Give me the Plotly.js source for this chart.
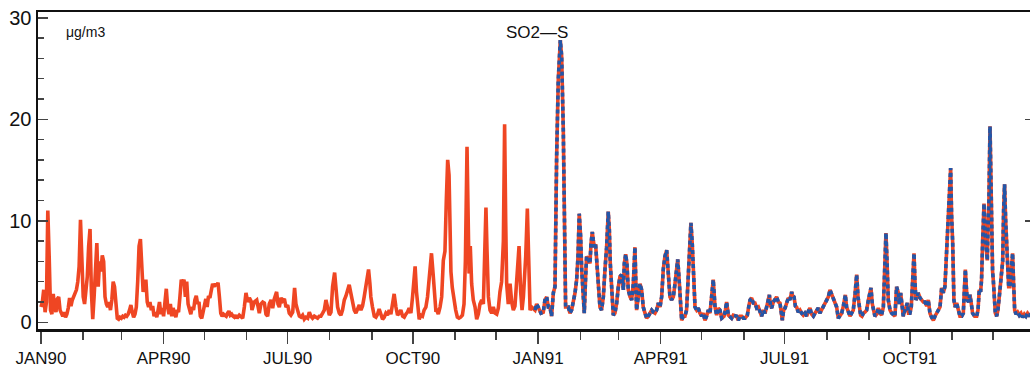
<!DOCTYPE html>
<html>
<head>
<meta charset="utf-8">
<script src="https://cdn.plot.ly/plotly-3.0.1.min.js"></script>
<style>
html,body{margin:0;padding:0;overflow:hidden;background:#fff;}
#chart{width:1032px;height:372px;}
</style>
</head>
<body>
<div id="chart"></div>
<script>
// Daily SO2-S concentration (µg/m3), days counted from 1 Jan 1990
const startDate = '1990-01-01';
const dayOffsets = [
0,1,2,3,4,5,6,7,8,9,10,11,12,13,14,15,16,17,18,19,20,21,22,23,24,25,26,27,28,29,30,31,32,33,34,35,36,37,38,39,
40,41,42,43,44,45,46,47,48,49,50,51,52,53,54,55,56,57,58,59,60,61,62,63,64,65,66,67,68,69,70,71,72,73,74,75,76,77,78,79,
80,81,82,83,84,85,86,87,88,89,90,91,92,93,94,95,96,97,98,99,100,101,102,103,104,105,106,107,108,109,110,111,112,113,114,115,116,117,118,119,
120,121,122,123,124,125,126,127,128,129,130,131,132,133,134,135,136,137,138,139,140,141,142,143,144,
145.6,148.1,149.3,150.5,151.8,153,154.2,154.9,156.6,158.4,159.3,160.3,161.5,162.8,164,165.2,166.4,167.6,168.9,170.1,
171.3,173,174,175,176.2,177.4,178.7,179.9,181.1,182.3,183.5,184.8,186.2,187.2,188.4,189.7,190.9,192.1,193.3,194.5,
195.8,197,198.2,199.4,200.7,201.9,203.1,204.3,205.5,206.8,208,209.2,210.4,211.7,212.9,214.1,215.6,216.5,217.8,219,
220.2,221.4,222.7,223.9,225.1,226.3,227.6,228.8,230,231.2,232.4,233.7,234.9,236.1,237.3,238.6,239.8,240.5,241.5,242.2,
243.4,244.7,245.9,247.1,248.3,249.6,250.8,252,253.2,254.4,255.7,256.9,258.1,259.3,260.6,261.8,263,264.2,265.5,266.7,
267.9,269.1,270.3,271.6,272.8,274,274.7,275.7,276.7,277.7,278.9,280.1,281.3,282.6,283.8,285,286.7,287.9,288.9,289.9,
290.5,291.7,293,294.2,295.4,296.6,297.6,298.6,299.6,300.3,301,302,303.2,304.5,305.7,306.9,308.1,309.4,310.6,311.6,
312.8,313.5,314.3,315.2,316.2,317.4,318.7,319.9,321.1,322.3,323.6,324.8,325.8,326.7,327.5,328.5,329.7,330.9,332.1,333.4,
334.6,335.8,337,338.2,339.5,340.4,341.2,341.9,343.1,344.4,345.6,346.8,348,349.3,351,352.2,353.2,354.2,354.9,355.9,
357.1,358.1,359.1,360.3,361.5,362.7,363.9,
365.1,367.1,368.8,370,371.3,372.5,373.7,374.9,376.2,377.4,378.6,379.8,381.3,382.3,383.5,384.2,385.2,387.2,388.4,389.6,
390.8,392.1,393.3,394.3,395.2,396.2,397,398,398.9,399.9,400.6,401.9,403.1,403.8,404.8,405.5,406.3,407.2,408,409.2,
410.4,411.6,412.9,414.1,415.3,416.5,417.3,418,419,420.2,421.4,422.7,423.9,425.1,426.3,427.6,428.3,429.3,430.2,431.2,
432.5,433.7,434.9,436.1,437.3,438.6,439.8,441,442.2,443.5,444.7,445.9,447.1,448.4,449.6,450.8,452,453.3,454.5,455.7,
456.9,458.1,459.4,460.6,461.8,463,464.3,465.5,466.5,467.5,468.4,469.4,470.4,471.6,472.8,474,475.3,476.3,477.2,478.2,
478.9,480.2,481.4,482.6,483.8,485.1,486.3,487.5,488.7,490,491.2,492.4,493.6,
494.9,496.1,497.3,498.5,499.8,501.5,502.5,503.4,504.7,505.9,507.1,508.3,509.6,510.8,512,513.2,514.5,515.7,516.9,518.6,
519.6,520.6,521.8,523,524.2,525.5,526.7,527.9,529.1,530.4,531.6,532.8,534,534.8,535.7,536.5,537.7,538.4,539.4,540.1,
541.4,542.6,543.6,544.3,545.3,546.3,547.5,548.7,549.9,551.2,551.9,552.9,553.9,554.8,556,557.3,558.5,559.7,560.9,562.2,
563.4,564.6,565.8,567.1,568.3,569.5,570.7,571.9,573.2,574.4,575.6,576.9,578.1,579.3,580.5,581.8,583,584.2,585.4,586.6,
587.9,589.1,590.6,591.5,592.8,594,595.2,596.4,597.7,598.9,599.9,600.8,601.8,602.8,603.8,605,606.2,607.5,608.7,609.4,
610.4,611.1,612.3,613.6,614.8,616,617.2,618.5,619.4,620.4,621.2,622.1,623.4,
624.6,627,628.2,629.5,630.2,631.2,632.2,633.1,634.4,636.1,637,638,639,640,641,641.7,642.4,643.4,644.1,645.4,
646.6,647.8,649,650.3,651.5,652.7,653.9,655.2,656.4,657.6,658.8,660.1,661.3,662.5,663.7,664.5,665.4,666.2,667.2,667.9,
668.6,669.4,670.3,671.3,672.3,673.5,674.7,676,677.2,677.9,678.7,679.4,680.1,681.1,682.1,683.1,684,685.5,687,688,
688.9,689.9,690.6,691.4,692.4,693.1,693.8,694.8,695.5,696,696.8,697.5,698,698.7,699.2,699.9,700.7,701.7,702.6,703.6,
704.4,705.3,706.1,706.8,707.5,708.3,709,709.7,710.5,711.4,712.4,713.4,714.1,714.9,715.9,717.1,718.3,719.5,720.7,722,
723.2,724.4,725.6,726.6
];
const so2Values = [
1.5,2.0,3.2,1.0,2.0,11.0,6.5,1.2,0.8,2.8,1.5,1.0,2.3,2.5,1.2,0.9,0.6,1.0,0.5,0.8,1.4,2.4,1.6,2.2,2.6,3.0,3.2,4.0,5.5,10.1,6.0,2.5,1.8,3.0,4.5,7.5,9.2,3.0,0.3,2.5,
6.0,7.8,3.5,6.0,5.0,6.6,6.0,2.5,1.8,1.5,2.0,1.2,2.2,4.0,3.5,1.2,0.4,0.3,0.5,0.4,0.6,0.5,0.7,0.6,0.8,1.2,1.7,1.0,0.5,0.8,1.5,4.0,7.5,8.2,5.0,3.0,3.5,4.2,2.0,1.5,
2.0,1.2,1.6,0.6,1.0,0.5,1.2,2.0,0.8,1.4,0.6,1.8,3.3,1.5,0.8,1.8,0.6,1.4,1.0,0.5,1.2,1.0,2.5,4.2,3.8,4.2,2.5,4.0,1.8,1.2,0.8,1.5,1.2,2.2,2.6,1.8,2.0,0.6,0.4,1.0,
1.8,2.3,1.5,2.6,2.4,3.2,3.8,3.5,3.8,3.6,3.9,2.5,0.9,0.6,0.8,0.7,0.6,0.9,1.1,0.7,0.8,0.6,0.5,0.7,0.4,
0.7,0.4,1.5,2.9,2.0,2.4,2.1,1.2,2.0,2.2,1.6,0.9,1.8,2.0,1.9,0.8,0.6,1.8,2.2,1.4,
2.3,3.0,1.8,1.5,2.4,2.1,2.3,1.5,1.7,0.9,0.7,1.0,3.4,1.8,1.2,0.6,0.5,0.7,0.3,0.5,
0.4,1.0,0.6,0.4,0.6,0.5,0.4,0.6,0.6,0.9,1.2,2.2,1.4,0.7,1.0,3.5,4.9,3.0,1.5,0.9,
0.7,1.2,2.2,2.6,3.2,3.7,2.8,2.0,1.2,0.9,1.3,1.7,1.2,1.6,2.5,3.6,4.6,5.2,3.8,2.5,
1.5,0.6,0.5,0.8,1.3,0.7,0.3,0.5,0.9,0.7,1.2,0.8,1.6,2.8,1.5,0.7,0.9,1.2,0.6,0.5,
0.8,1.0,1.4,0.9,2.5,4.5,5.5,3.0,1.5,0.3,0.7,0.6,1.2,1.5,2.5,4.5,6.8,4.8,2.2,1.2,
1.2,0.8,1.5,2.5,6.1,7.0,12.0,16.0,14.5,7.8,5.0,3.4,2.0,1.2,0.5,0.4,0.5,0.7,1.8,6.0,
17.3,9.0,4.8,7.5,3.8,2.2,1.5,0.3,0.8,1.8,2.2,1.8,6.0,11.3,7.0,2.5,1.2,0.9,1.5,0.9,
0.8,1.4,3.0,4.0,8.0,19.5,10.0,3.8,1.8,3.8,2.0,1.2,1.6,4.5,7.5,3.0,1.2,2.5,3.8,6.5,
11.2,6.0,1.2,1.5,1.4,1.2,1.8,
1.5,0.9,1.0,2.2,2.5,1.5,1.5,0.6,2.9,3.5,16.3,23.9,27.8,26.2,18.9,9.1,1.5,1.5,0.9,1.2,
1.9,2.9,4.2,6.5,10.7,8.5,5.2,2.5,0.9,4.5,6.5,6.2,5.8,7.7,8.9,8.1,7.4,7.7,5.8,3.5,
1.5,1.2,2.5,5.2,7.4,10.9,9.1,5.8,2.5,0.7,0.9,1.9,3.5,4.5,4.7,3.2,5.8,6.7,5.8,3.2,
2.5,2.2,3.8,7.4,1.2,2.5,3.8,3.2,1.5,0.9,0.4,0.6,1.0,1.2,1.0,0.9,1.2,1.9,1.5,2.5,
5.2,6.5,7.1,4.5,2.5,2.2,2.5,3.8,5.2,6.2,4.5,2.5,0.2,0.6,0.6,1.2,4.5,7.7,9.8,7.7,
5.8,1.5,1.2,1.4,0.9,0.6,0.9,0.2,0.6,1.2,0.9,2.2,4.2,
1.5,0.7,1.4,1.2,0.4,0.6,1.2,2.0,0.7,0.6,0.4,0.7,0.6,0.6,0.2,0.6,0.6,0.4,0.4,0.7,
1.5,2.2,2.4,1.9,1.9,1.4,1.5,0.9,0.6,1.2,0.9,1.5,2.4,2.7,1.6,1.4,2.0,2.2,2.4,2.5,
2.0,1.9,0.9,0.2,1.2,1.4,1.9,2.4,2.2,3.0,2.6,2.5,1.6,1.5,1.0,1.2,0.9,0.7,0.9,0.6,
1.1,1.4,0.8,0.6,0.9,1.2,1.4,0.9,1.2,1.5,1.9,2.2,2.5,3.2,2.8,2.2,1.9,1.5,0.4,0.7,
0.9,1.6,2.7,1.5,0.9,0.6,0.9,1.2,2.8,4.7,2.5,1.5,0.7,0.6,0.9,1.0,1.2,2.2,3.2,3.4,
1.8,1.2,0.6,0.8,1.4,0.9,0.7,1.5,5.0,8.8,6.0,2.2,1.2,
0.9,0.6,3.5,2.9,1.8,2.9,1.2,0.6,1.2,1.9,0.9,0.9,1.5,4.5,6.8,4.0,2.2,2.5,2.9,2.4,
2.2,2.0,2.0,1.6,2.2,0.9,0.5,0.2,0.6,0.9,1.2,1.5,3.4,2.9,3.5,5.8,7.5,8.8,13.0,15.2,
10.5,7.8,2.2,1.5,1.9,1.2,0.6,0.6,0.9,3.0,5.2,3.5,2.2,2.0,2.7,1.8,0.9,0.6,0.6,1.2,
3.2,3.0,4.2,8.0,11.7,9.0,7.8,6.1,10.0,12.0,19.3,12.5,6.1,5.0,4.2,2.0,0.9,0.6,1.2,2.5,
3.5,5.0,6.0,11.0,13.6,10.0,7.8,4.5,3.5,3.5,5.0,6.8,4.0,1.2,0.8,1.0,0.7,0.9,0.5,0.8,
0.6,0.9,0.7,0.8
];
const secondSeriesStartDay = 362.7;
const tickDates = ['1990-01-01','1990-04-01','1990-07-01','1990-10-01','1991-01-01','1991-04-01','1991-07-01','1991-10-01'];
const tickLabels = ['JAN90','APR90','JUL90','OCT90','JAN91','APR91','JUL91','OCT91'];
const seriesName = 'SO2\u2014S';
const unitLabel = '\u03bcg/m3';

const base = Date.parse(startDate + 'T00:00:00Z');
function toDate(d){ return new Date(base + d*86400000).toISOString().slice(0,19).replace('T',' '); }
const xAll = dayOffsets.map(toDate);
const xB = [], yB = [];
dayOffsets.forEach((d,i)=>{ if(d >= secondSeriesStartDay){ xB.push(toDate(d)); yB.push(so2Values[i]); } });

const RED = '#EF4623', BLUE = '#2356A8';
const traces = [
  {x: xAll, y: so2Values, type:'scatter', mode:'lines', line:{color:RED, width:3.6}, hoverinfo:'skip'},
  {x: xB, y: yB, type:'scatter', mode:'lines', line:{color:BLUE, width:3.6, dash:'4px,3px'}, hoverinfo:'skip'},
  {x: [], y: [], type:'scatter', yaxis:'y2', hoverinfo:'skip'}
];
const font = {family:'"Liberation Sans", Arial, sans-serif', color:'#111'};
const yr = [-0.66, 30.57];
const layout = {
  width:1032, height:372,
  margin:{l:38, r:1, t:12, b:43},
  paper_bgcolor:'#fff', plot_bgcolor:'#fff',
  showlegend:false,
  font: font,
  xaxis:{
    type:'date',
    range:['1989-12-29 19:12','1991-12-28 21:36'],
    tickmode:'array', tickvals:tickDates, ticktext:tickLabels,
    ticks:'outside', ticklen:12, tickwidth:1.5, tickcolor:'#444',
    minor:{tickmode:'linear', tick0:'1990-01-01', dtick:'M1', ticks:'outside', ticklen:8, tickwidth:1.5, tickcolor:'#444', showgrid:false},
    showline:true, linecolor:'#111', linewidth:2.5, mirror:true,
    showgrid:false, zeroline:false,
    tickfont:{size:17, family:font.family, color:'#111'}
  },
  yaxis:{
    range:yr,
    tickmode:'array', tickvals:[0,10,20,30], ticktext:['0','10','20','30'],
    ticks:'inside', ticklen:10, tickwidth:1.5, tickcolor:'#444',
    minor:{tickmode:'linear', tick0:0, dtick:2, ticks:'inside', ticklen:6, tickwidth:1.5, tickcolor:'#444', showgrid:false},
    showline:true, linecolor:'#111', linewidth:2.5,
    showgrid:false, zeroline:false,
    tickfont:{size:20, family:font.family, color:'#111'}
  },
  yaxis2:{
    overlaying:'y', side:'right', anchor:'x', range:yr,
    tickmode:'array', tickvals:[10,20],
    ticks:'inside', ticklen:6, tickwidth:1.5, tickcolor:'#444',
    showticklabels:false, showline:false, showgrid:false, zeroline:false
  },
  annotations:[
    {xref:'paper', yref:'paper', x:0.026, y:0.937, xanchor:'left', yanchor:'middle', showarrow:false,
     text:unitLabel, font:{size:14, family:font.family, color:'#111'}},
    {xref:'paper', yref:'paper', x:0.5025, y:0.934, xanchor:'center', yanchor:'middle', showarrow:false,
     text:seriesName, font:{size:17, family:font.family, color:'#111'}}
  ]
};
Plotly.newPlot('chart', traces, layout, {staticPlot:true, displayModeBar:false});
</script>
</body>
</html>
